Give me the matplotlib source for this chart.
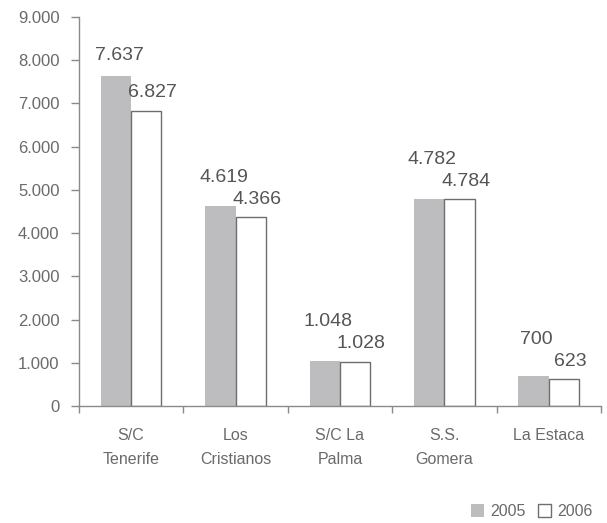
import matplotlib
matplotlib.use("Agg")
import matplotlib.pyplot as plt
from matplotlib.patches import Patch
import numpy as np

# Data
ports = ["S/C\nTenerife", "Los\nCristianos", "S/C La\nPalma", "S.S.\nGomera", "La Estaca"]
vals_2005 = [7637, 4619, 1048, 4782, 700]
vals_2006 = [6827, 4366, 1028, 4784, 623]
yticks = [0, 1000, 2000, 3000, 4000, 5000, 6000, 7000, 8000, 9000]


def fmt(v):
    # Spanish thousands separator
    return f"{v:,}".replace(",", ".")


plt.rcParams["font.family"] = ["Liberation Sans", "DejaVu Sans"]

fig = plt.figure(figsize=(6.07, 5.23), dpi=100)
ax = fig.add_axes([0.130, 0.2237, 0.860, 0.7438])

gray = "#bdbdbf"
edge = "#6e6e6e"
axis_col = "#8a8a8a"
txt_col = "#6a6a6a"

x = np.arange(len(ports))
w = 0.29
ax.bar(x - w / 2, vals_2005, w, color=gray, edgecolor="none")
ax.bar(x + w / 2, vals_2006, w, color="white", edgecolor=edge, linewidth=1.0)

ax.set_xlim(-0.5, len(ports) - 0.5)
ax.set_ylim(0, 9000)

# pixel -> data units for label placement
px = 9000 / (ax.get_position().height * fig.get_figheight() * fig.dpi)
for i in range(len(ports)):
    y_white = vals_2006[i] + 18 * px
    y_gray = max(vals_2005[i] + 20 * px, y_white + 22 * px)
    ax.text(x[i] - w / 2 + 0.03, y_gray, fmt(vals_2005[i]), ha="center", va="center",
            fontsize=14, color="#555555")
    ax.text(x[i] + w / 2 + 0.06, y_white, fmt(vals_2006[i]), ha="center", va="center",
            fontsize=14, color="#555555")

ax.set_yticks(yticks)
ax.set_yticklabels([fmt(v) for v in yticks])
ax.set_xticks(np.arange(len(ports) + 1) - 0.5, minor=False)
ax.set_xticklabels([])
ax.set_xticks(x, minor=True)
ax.set_xticklabels(ports, minor=True)
ax.tick_params(axis="x", which="minor", length=0, pad=16, labelsize=11.5,
               labelcolor=txt_col)
ax.tick_params(axis="x", which="major", length=5, color=axis_col, width=1)
ax.tick_params(axis="y", length=6, color=axis_col, width=1, labelsize=12,
               labelcolor=txt_col, pad=8)
for lbl in ax.get_xticklabels(minor=True):
    lbl.set_linespacing(1.75)

for s in ["top", "right"]:
    ax.spines[s].set_visible(False)
for s in ["left", "bottom"]:
    ax.spines[s].set_color(axis_col)
    ax.spines[s].set_linewidth(1)

handles = [Patch(facecolor=gray, edgecolor="none", label="2005"),
           Patch(facecolor="white", edgecolor=edge, linewidth=1, label="2006")]
leg = fig.legend(handles=handles, loc="lower right", bbox_to_anchor=(1.0, -0.02),
                 ncol=2, frameon=False, fontsize=11.5, handlelength=0.8,
                 handleheight=0.8, handletextpad=0.4, columnspacing=0.8)
for t in leg.get_texts():
    t.set_color(txt_col)

fig.savefig("out.png", dpi=100)
